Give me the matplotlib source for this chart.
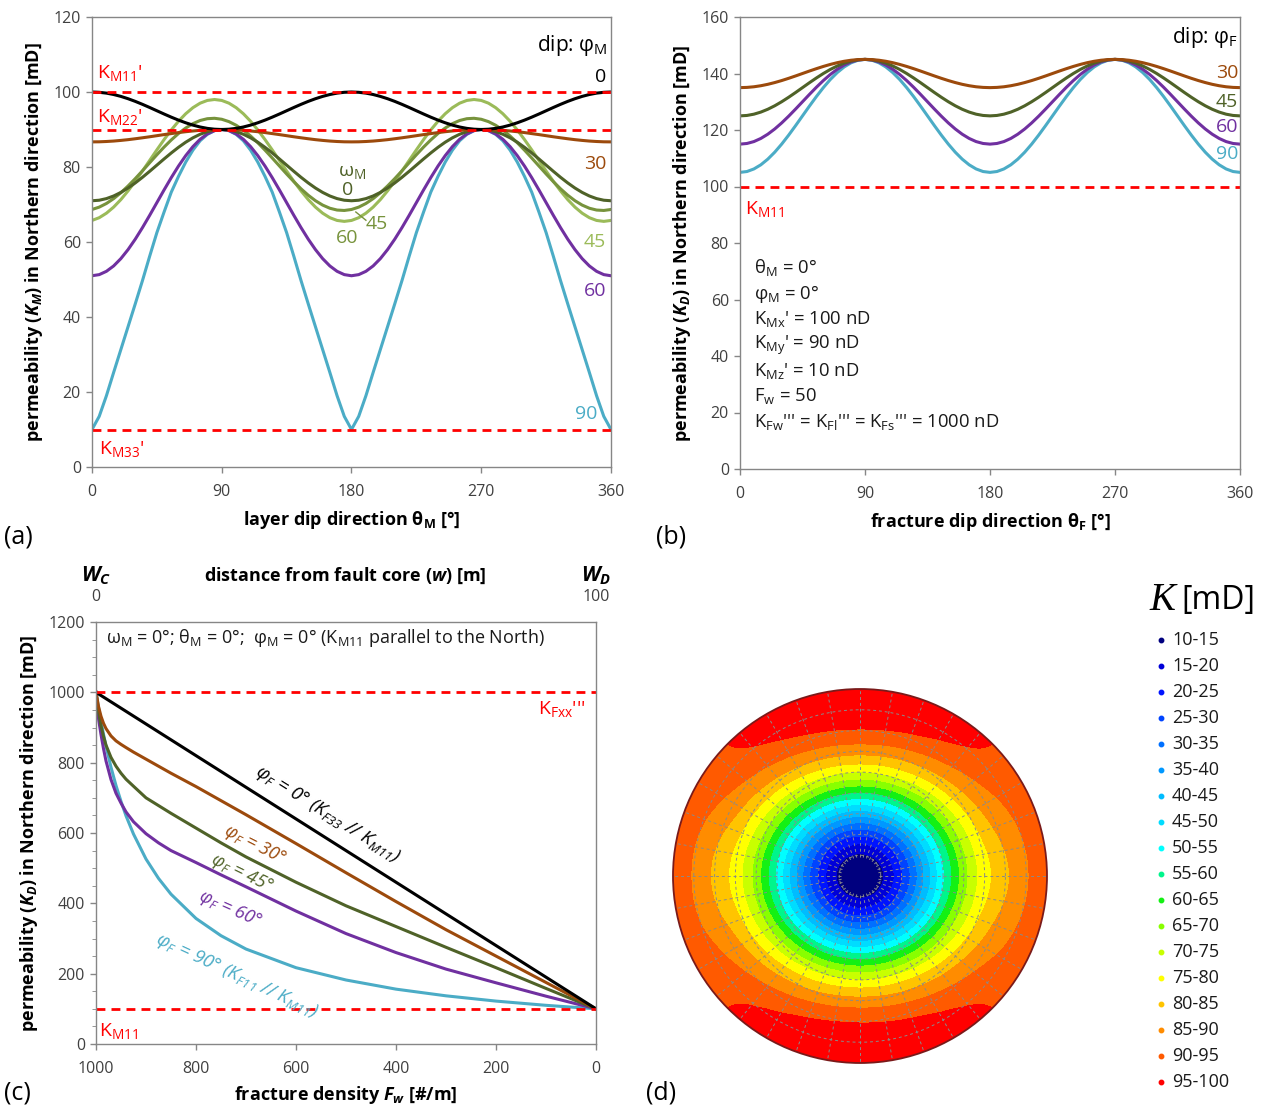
import numpy as np
import matplotlib
matplotlib.use("Agg")
import matplotlib.pyplot as plt
import matplotlib.tri as mtri
from matplotlib.patches import Circle

plt.rcParams['font.family'] = ['Open Sans', 'DejaVu Sans']
plt.rcParams['mathtext.fontset'] = 'custom'
plt.rcParams['mathtext.rm'] = 'Open Sans'
plt.rcParams['mathtext.it'] = 'Open Sans:italic:bold'
plt.rcParams['mathtext.bf'] = 'Open Sans:bold'
plt.rcParams['mathtext.default'] = 'regular'

# ---------------- data ----------------
# (a) matrix permeability in the Northern direction vs layer dip direction.
# Symmetric curves are listed for 0-90 deg (5 deg steps); they mirror about 90
# and repeat every 180 deg. The omega-rotated curves are listed for 0-180 deg.
theta_deg = list(range(0, 361, 5))
KM_dip0_q = [100, 99.92, 99.70, 99.33, 98.83, 98.21, 97.5, 96.71, 95.87, 95.0,
             94.13, 93.29, 92.5, 91.79, 91.17, 90.67, 90.30, 90.08, 90.0]
KM_dip30_q = [86.7, 86.72, 86.8, 86.92, 87.09, 87.29, 87.53, 87.79, 88.06, 88.35,
              88.64, 88.91, 89.18, 89.41, 89.61, 89.78, 89.9, 89.97, 90.0]
KM_dip45_w0_q = [71.0, 71.14, 71.57, 72.27, 73.22, 74.39, 75.75, 77.25, 78.85, 80.5,
                 82.15, 83.75, 85.25, 86.61, 87.78, 88.73, 89.43, 89.86, 90.0]
KM_dip60_q = [51.0, 51.30, 52.18, 53.61, 55.56, 57.97, 60.75, 63.83, 67.11, 70.5,
              73.89, 77.17, 80.25, 83.03, 85.44, 87.39, 88.82, 89.70, 90.0]
KM_dip90_q = [10.0, 13.5, 19.0, 25.2, 31.3, 37.4, 43.5, 49.7, 56.2, 62.5,
              68.0, 73.3, 77.5, 81.3, 84.5, 87.0, 88.7, 89.7, 90.0]
KM_dip45_w45_h = [68.67, 69.30, 70.27, 71.56, 73.13, 74.93, 76.90, 78.99, 81.13, 83.26,
                  85.31, 87.22, 88.93, 90.39, 91.56, 92.40, 92.88, 92.99, 92.73, 92.10,
                  91.13, 89.84, 88.27, 86.47, 84.50, 82.41, 80.27, 78.14, 76.09, 74.18,
                  72.47, 71.01, 69.84, 69.00, 68.52, 68.41, 68.67]
KM_dip45_w60_h = [65.75, 66.48, 67.68, 69.30, 71.30, 73.63, 76.19, 78.93, 81.75, 84.57,
                  87.31, 89.88, 92.20, 94.20, 95.82, 97.02, 97.75, 98.0, 97.75, 97.02,
                  95.82, 94.20, 92.20, 89.88, 87.31, 84.57, 81.75, 78.93, 76.19, 73.63,
                  71.30, 69.30, 67.68, 66.48, 65.75, 65.5, 65.75]
KM11, KM22, KM33 = 100, 90, 10

# (b) damage-zone permeability vs fracture dip direction (0-90 deg, 5 deg steps)
KD_dip30_q = [135, 135.08, 135.30, 135.67, 136.17, 136.79, 137.5, 138.29, 139.13, 140,
              140.87, 141.71, 142.5, 143.21, 143.83, 144.33, 144.70, 144.92, 145]
KD_dip45_q = [125, 125.15, 125.60, 126.34, 127.34, 128.57, 130, 131.58, 133.26, 135,
              136.74, 138.42, 140, 141.43, 142.66, 143.66, 144.40, 144.85, 145]
KD_dip60_q = [115, 115.23, 115.90, 117.01, 118.51, 120.36, 122.5, 124.87, 127.40, 130,
              132.60, 135.13, 137.5, 139.64, 141.49, 142.99, 144.10, 144.77, 145]
KD_dip90_q = [105, 105.30, 106.21, 107.68, 109.68, 112.14, 115, 118.16, 121.53, 125,
              128.47, 131.84, 135, 137.86, 140.32, 142.32, 143.79, 144.70, 145]

# (c) damage-zone permeability vs fracture density
Fw = [1000, 995, 990, 985, 980, 970, 960, 950, 940, 925, 900, 875, 850, 800, 750,
      700, 600, 500, 400, 300, 200, 100, 0]
KD_F0 = [1000, 995.5, 991, 986.5, 982, 973, 964, 955, 946, 932.5, 910, 887.5, 865,
         820, 775, 730, 640, 550, 460, 370, 280, 190, 100]
KD_F30 = [1000, 960, 932, 912, 897, 876, 862, 852, 843, 830, 810, 790, 770, 732, 692,
          652, 570, 487, 405, 325, 250, 175, 100]
KD_F45 = [1000, 945, 905, 875, 850, 815, 790, 770, 753, 733, 700, 678, 656, 614, 572,
          532, 460, 393, 334, 275, 217, 158, 100]
KD_F60 = [1000, 925, 880, 840, 805, 752, 713, 685, 660, 632, 598, 572, 550, 516, 481,
          447, 378, 314, 260, 213, 174, 136, 100]
KD_F90 = [1000, 957, 917, 881, 847, 787, 735, 690, 649, 597, 526, 471, 426, 357, 308,
          270, 217, 182, 156, 137, 122, 110, 100]
KFxx, KM11c = 1000, 100

# (d) directional permeability on the projection net, read along azimuths
ring_r = [0.0, 0.1, 0.2, 0.3, 0.4, 0.5, 0.6, 0.7, 0.8, 0.9, 1.0]
K_az0 = [10, 13.5, 23.3, 37.3, 52.8, 67.6, 80.1, 89.5, 95.7, 99.0, 100]
K_az22 = [10, 13.5, 23.1, 36.8, 52.1, 66.6, 78.9, 88.1, 94.3, 97.5, 98.5]
K_az45 = [10, 13.3, 22.6, 35.8, 50.5, 64.4, 76.2, 85.1, 90.9, 94.1, 95.0]
K_az67 = [10, 13.2, 22.1, 34.7, 48.8, 62.2, 73.5, 82.0, 87.3, 91.0, 93.0]
K_az90 = [10, 13.1, 21.8, 34.2, 48.1, 61.2, 72.3, 79.8, 85.0, 89.8, 92.0]
class_labels = ['10-15', '15-20', '20-25', '25-30', '30-35', '35-40', '40-45',
                '45-50', '50-55', '55-60', '60-65', '65-70', '70-75', '75-80',
                '80-85', '85-90', '90-95', '95-100']
class_edges = [0, 15, 20, 25, 30, 35, 40, 45, 50, 55, 60, 65, 70, 75, 80, 85, 90, 95, 200]
class_colors = ['#00007F', '#0000D8', '#0014FF', '#0044FF', '#0070FF', '#0098FF',
                '#00BCFF', '#00DCFF', '#00FFFF', '#00F58C', '#14F014', '#88FF00',
                '#C8FF00', '#FFFF00', '#FFC400', '#FF8C00', '#FF5A00', '#FF0000']


def full_from_quarter(q):
    half = list(q) + list(q[-2::-1])
    return half + half[1:]


def full_from_half(h):
    return list(h) + list(h[1:])


# ---------------- styling ----------------
W, H = 1270, 1108
fig = plt.figure(figsize=(W / 100, H / 100), dpi=100)

C_BLACK = '#000000'
C_BROWN = '#9C4A0C'
C_DKGREEN = '#4F6228'
C_MDGREEN = '#77933C'
C_LTGREEN = '#9BBB59'
C_PURPLE = '#7030A0'
C_CYAN = '#4BACC6'
C_RED = '#FF0000'
AX_GRAY = '#868686'
TXT = '#404040'
DASH = (0, (3.2, 2.2))
LABEL_FS = 13
TICK_FS = 11.5


def ax_px(l, t, r, b, **kw):
    return fig.add_axes([l / W, 1 - b / H, (r - l) / W, (b - t) / H], **kw)


def ftext(x, y, s, **kw):
    kw.setdefault('ha', 'left')
    kw.setdefault('va', 'center')
    return fig.text(x / W, 1 - y / H, s, **kw)


def style(ax):
    for sp in ax.spines.values():
        sp.set_color(AX_GRAY)
        sp.set_linewidth(1.0)
    ax.tick_params(direction='out', length=4, width=1, color=AX_GRAY,
                   labelsize=TICK_FS, labelcolor=TXT, pad=4)


LW = 2.2

# ---------------- panel (a) ----------------
axa = ax_px(92, 17, 611, 467)
style(axa)
axa.set_xlim(0, 360)
axa.set_ylim(0, 120)
axa.set_xticks(range(0, 361, 90))
axa.set_yticks(range(0, 121, 20))
axa.tick_params(axis='x', pad=8)
axa.plot(theta_deg, full_from_quarter(KM_dip90_q), color=C_CYAN, lw=LW)
axa.plot(theta_deg, full_from_quarter(KM_dip60_q), color=C_PURPLE, lw=LW)
axa.plot(theta_deg, full_from_half(KM_dip45_w60_h), color=C_LTGREEN, lw=LW)
axa.plot(theta_deg, full_from_half(KM_dip45_w45_h), color=C_MDGREEN, lw=LW)
axa.plot(theta_deg, full_from_quarter(KM_dip45_w0_q), color=C_DKGREEN, lw=LW)
axa.plot(theta_deg, full_from_quarter(KM_dip30_q), color=C_BROWN, lw=LW)
axa.plot(theta_deg, full_from_quarter(KM_dip0_q), color=C_BLACK, lw=LW)
for v in (KM11, KM22, KM33):
    axa.axhline(v, color=C_RED, lw=2, ls=DASH)
axa.plot([183, 190], [68, 65.8], color=C_MDGREEN, lw=1)

axa.set_ylabel(r'permeability ($\mathit{K_M}$) in Northern direction [mD]',
               fontsize=LABEL_FS, fontweight='bold', labelpad=6)
axa.set_xlabel(r'layer dip direction θ$_M$ [°]', fontsize=LABEL_FS, fontweight='bold',
               labelpad=7)

ftext(608, 45, r'dip: φ$_M$', ha='right', fontsize=15)
ftext(606, 77, '0', ha='right', fontsize=14, color=C_BLACK)
ftext(606, 164, '30', ha='right', fontsize=14, color=C_BROWN)
ftext(606, 242, '45', ha='right', fontsize=14, color=C_LTGREEN)
ftext(606, 291, '60', ha='right', fontsize=14, color=C_PURPLE)
ftext(597, 414, '90', ha='right', fontsize=14, color=C_CYAN)
ftext(97, 73, r"K$_{M11}$'", fontsize=14, color=C_RED)
ftext(97, 117, r"K$_{M22}$'", fontsize=14, color=C_RED)
ftext(99, 449, r"K$_{M33}$'", fontsize=14, color=C_RED)
ftext(352, 172, r'ω$_M$', ha='center', fontsize=14, color=C_DKGREEN)
ftext(348, 190, '0', ha='center', fontsize=14, color=C_DKGREEN)
ftext(377, 224, '45', ha='center', fontsize=14, color=C_MDGREEN)
ftext(347, 238, '60', ha='center', fontsize=14, color=C_MDGREEN)

# ---------------- panel (b) ----------------
axb = ax_px(740, 17, 1240, 469)
style(axb)
axb.set_xlim(0, 360)
axb.set_ylim(0, 160)
axb.set_xticks(range(0, 361, 90))
axb.set_yticks(range(0, 161, 20))
axb.tick_params(axis='x', pad=8)
axb.plot(theta_deg, full_from_quarter(KD_dip90_q), color=C_CYAN, lw=LW)
axb.plot(theta_deg, full_from_quarter(KD_dip60_q), color=C_PURPLE, lw=LW)
axb.plot(theta_deg, full_from_quarter(KD_dip45_q), color=C_DKGREEN, lw=LW)
axb.plot(theta_deg, full_from_quarter(KD_dip30_q), color=C_BROWN, lw=LW)
axb.axhline(KM11, color=C_RED, lw=2, ls=DASH)
axb.set_ylabel(r'permeability ($\mathit{K_D}$) in Northern direction [mD]',
               fontsize=LABEL_FS, fontweight='bold', labelpad=6)
axb.set_xlabel(r'fracture dip direction θ$_F$ [°]', fontsize=LABEL_FS, fontweight='bold',
               labelpad=7)

ftext(1238, 38, r'dip: φ$_F$', ha='right', fontsize=15)
ftext(1238, 73, '30', ha='right', fontsize=14, color=C_BROWN)
ftext(1238, 102, '45', ha='right', fontsize=14, color=C_DKGREEN)
ftext(1238, 127, '60', ha='right', fontsize=14, color=C_PURPLE)
ftext(1238, 154, '90', ha='right', fontsize=14, color=C_CYAN)
ftext(745, 209, r'K$_{M11}$', fontsize=14, color=C_RED)
block = [r'θ$_M$ = 0°', r'φ$_M$ = 0°', r"K$_{Mx}$' = 100 nD", r"K$_{My}$' = 90 nD",
         r"K$_{Mz}$' = 10 nD", r'F$_w$ = 50',
         r"K$_{Fw}$''' = K$_{Fl}$''' = K$_{Fs}$''' = 1000 nD"]
for i, s in enumerate(block):
    ftext(754, 268 + i * 25.7, s, fontsize=13.3, color='#1a1a1a')

# ---------------- panel (c) ----------------
axc = ax_px(96, 622, 596, 1044)
style(axc)
axc.set_xlim(1000, 0)
axc.set_ylim(0, 1200)
axc.set_xticks(range(1000, -1, -200))
axc.set_yticks(range(0, 1201, 200))
axc.set_yticks(range(0, 1201, 50), minor=True)
axc.tick_params(axis='y', which='minor', direction='out', length=3, color=AX_GRAY)
axc.tick_params(axis='x', pad=8)
axc.plot(Fw, KD_F90, color=C_CYAN, lw=LW)
axc.plot(Fw, KD_F60, color=C_PURPLE, lw=LW)
axc.plot(Fw, KD_F45, color=C_DKGREEN, lw=LW)
axc.plot(Fw, KD_F30, color=C_BROWN, lw=LW)
axc.plot(Fw, KD_F0, color=C_BLACK, lw=LW)
axc.axhline(KFxx, color=C_RED, lw=2, ls=DASH)
axc.axhline(KM11c, color=C_RED, lw=2, ls=DASH)
axc.set_ylabel(r'permeability ($\mathit{K_D}$) in Northern direction [mD]',
               fontsize=LABEL_FS, fontweight='bold', labelpad=6)
axc.set_xlabel(r'fracture density $\mathit{F_w}$ [#/m]', fontsize=LABEL_FS,
               fontweight='bold', labelpad=5)

axc2 = axc.twiny()
axc2.set_xlim(0, 100)
axc2.set_xticks([0, 100])
axc2.tick_params(axis='x', length=0, labelsize=TICK_FS, labelcolor=TXT, pad=12)
for sp in axc2.spines.values():
    sp.set_visible(False)

ftext(96, 576, r'$\mathit{W_C}$', ha='center', fontsize=15, fontweight='bold')
ftext(596, 576, r'$\mathit{W_D}$', ha='center', fontsize=15, fontweight='bold')
ftext(345, 576, r'distance from fault core ($\mathit{w}$) [m]', ha='center',
      fontsize=LABEL_FS, fontweight='bold')
ftext(106, 638, r'ω$_M$ = 0°; θ$_M$ = 0°;  φ$_M$ = 0° (K$_{M11}$ parallel to the North)',
      fontsize=13, color='#1a1a1a')
ftext(586, 709, r"K$_{Fxx}$'''", ha='right', fontsize=14, color=C_RED)
ftext(99, 1031, r'K$_{M11}$', fontsize=14, color=C_RED)

ftext(327, 814, r'φ$_F$ = 0° (K$_{F33}$ // K$_{M11}$)', ha='center', fontsize=13.5,
      style='italic', rotation=-32, rotation_mode='anchor', color=C_BLACK)
ftext(255, 844, r'φ$_F$ = 30°', ha='center', fontsize=13, style='italic',
      rotation=-27, rotation_mode='anchor', color=C_BROWN)
ftext(242, 873, r'φ$_F$ = 45°', ha='center', fontsize=13, style='italic',
      rotation=-26, rotation_mode='anchor', color=C_DKGREEN)
ftext(230, 909, r'φ$_F$ = 60°', ha='center', fontsize=13, style='italic',
      rotation=-24, rotation_mode='anchor', color=C_PURPLE)
ftext(237, 975, r'φ$_F$ = 90° (K$_{F11}$ // K$_{M11}$)', ha='center', fontsize=13.5,
      style='italic', rotation=-25, rotation_mode='anchor', color=C_CYAN)

# ---------------- panel (d) ----------------
cx, cy, R = 860, 876, 187
pad = 200
axd = ax_px(cx - pad, cy - pad, cx + pad, cy + pad)
lim = pad / R
axd.set_xlim(-lim, lim)
axd.set_ylim(-lim, lim)
axd.set_aspect('equal')
axd.axis('off')

cols = [K_az0, K_az22, K_az45, K_az67, K_az90]
mirror = [0, 1, 2, 3, 4, 3, 2, 1, 0, 1, 2, 3, 4, 3, 2, 1]
az_full = np.deg2rad(np.arange(16) * 22.5)
xs, ys, zs = [0.0], [0.0], [K_az0[0]]
radii = ring_r[1:] + [1.08]
for ir, r in enumerate(radii):
    idx = min(ir + 1, len(ring_r) - 1)
    for ia, a in enumerate(az_full):
        xs.append(r * np.sin(a))
        ys.append(r * np.cos(a))
        zs.append(cols[mirror[ia]][idx])
tri = mtri.Triangulation(xs, ys)
refiner = mtri.UniformTriRefiner(tri)
tri_f, z_f = refiner.refine_field(np.array(zs), subdiv=3)
cs = axd.tricontourf(tri_f, z_f, levels=class_edges, colors=class_colors)
clip = Circle((0, 0), 1.0, transform=axd.transData)
cs.set_clip_path(clip)

grid_kw = dict(color='#8a8a8a', lw=0.7, ls=(0, (3, 3)))
tt = np.linspace(0, 2 * np.pi, 400)
for k in range(1, 9):
    rr = k / 9
    axd.plot(rr * np.cos(tt), rr * np.sin(tt), **grid_kw)
for a in np.deg2rad(np.arange(0, 360, 10)):
    axd.plot([0.1 * np.sin(a), np.sin(a)], [0.1 * np.cos(a), np.cos(a)], **grid_kw)
axd.add_patch(Circle((0, 0), 1.0, fill=False, ec='#7a1a1a', lw=1.3))

# legend of permeability classes
ftext(1162, 601, 'K', ha='center', fontsize=28, style='italic', family='Liberation Serif')
ftext(1181, 601, '[mD]', ha='left', fontsize=23)
for i, (lab, col) in enumerate(zip(class_labels, class_colors)):
    y = 640 + i * 26
    fig.add_artist(plt.Line2D([1161 / W], [1 - y / H], marker='o', ms=3.2,
                              color=col, ls='none', transform=fig.transFigure))
    ftext(1172, y, lab, fontsize=13, color='#1a1a1a')

# panel letters
ftext(4, 537, '(a)', fontsize=18)
ftext(656, 537, '(b)', fontsize=18)
ftext(4, 1093, '(c)', fontsize=18)
ftext(646, 1093, '(d)', fontsize=18)

fig.savefig('out.png', dpi=100)
